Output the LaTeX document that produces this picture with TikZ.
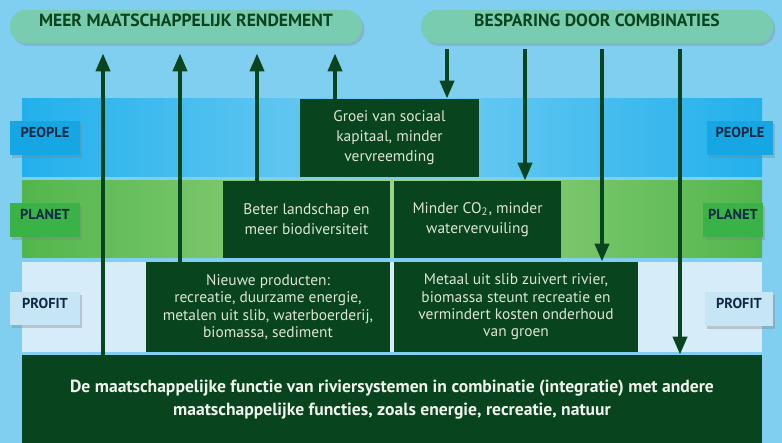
\documentclass[tikz,border=0pt]{standalone}
\usepackage{fontspec}
\setmainfont{PT Sans}
\usetikzlibrary{arrows.meta,fit,shadows}

\definecolor{skyback}{RGB}{128,206,240}
\definecolor{mintpill}{RGB}{122,204,176}
\definecolor{darkleaf}{RGB}{8,68,30}
\definecolor{boxtext}{RGB}{222,228,214}
\definecolor{basetext}{RGB}{240,244,236}
\definecolor{peopleblue}{RGB}{34,176,236}
\definecolor{peoplelight}{RGB}{118,206,242}
\definecolor{planetgreen}{RGB}{82,182,76}
\definecolor{planetlight}{RGB}{156,212,134}
\definecolor{profitlight}{RGB}{214,237,249}
\definecolor{labelnavy}{RGB}{16,40,66}
\definecolor{peoplelabel}{RGB}{22,166,228}
\definecolor{planetlabel}{RGB}{58,178,72}
\definecolor{profitlabel}{RGB}{198,230,246}

\tikzset{
  pill/.style={fill=mintpill, rounded corners=8pt, inner sep=0pt, text=darkleaf,
    font=\bfseries\fontsize{8.8}{10}\selectfont,
    drop shadow={shadow xshift=1.2pt, shadow yshift=-1.5pt, opacity=0.3}},
  band/.style={inner sep=0pt},
  cell/.style={fill=darkleaf, inner sep=0pt},
  celltext/.style={inner sep=0pt, align=center, text=boxtext,
    font=\fontsize{7.7}{10}\selectfont},
  tighttext/.style={celltext, font=\fontsize{7.7}{8.7}\selectfont},
  basetxt/.style={celltext, text=basetext, font=\bfseries\fontsize{8.8}{11.5}\selectfont},
  sidelabel/.style={inner sep=0pt, text=labelnavy, font=\bfseries\fontsize{7.2}{8}\selectfont,
    drop shadow={shadow xshift=1.2pt, shadow yshift=-1.5pt, opacity=0.35}},
  flow/.style={line width=2pt, draw=darkleaf},
  riseflow/.style={flow, -{Triangle[width=7pt,length=9pt]}, shorten >=5pt},
  dropflow/.style={flow, -{Triangle[width=7pt,length=9pt]}, shorten <=3pt},
}

\begin{document}
\begin{tikzpicture}[x=0.5pt,y=-0.5pt]
%%%%% START %%%%%

\useasboundingbox (0,0) rectangle (782,443);
\fill[skyback] (0,0) rectangle (782,443);

% kolommen van de pijlen
\coordinate (c1) at (103,0);
\coordinate (c2) at (180,0);
\coordinate (c3) at (257,0);
\coordinate (c4) at (335,0);
\coordinate (c5) at (447,0);
\coordinate (c6) at (525,0);
\coordinate (c7) at (602,0);
\coordinate (c8) at (680,0);

% banden
\node[band, left color=peopleblue, right color=peopleblue, middle color=peoplelight, fit={(22,99) (762,177)}] (people) {};
\node[band, left color=planetgreen, right color=planetgreen, middle color=planetlight, fit={(22,181) (762,258)}] (planet) {};
\node[band, fill=profitlight, fit={(22,262) (762,352)}] (profit) {};

% kopjes
\node[pill, fit={(10,10) (362,43)}] (gain) {MEER MAATSCHAPPELIJK RENDEMENT};
\node[pill, fit={(421,10) (773,43)}] (save) {BESPARING DOOR COMBINATIES};

% vakken
\node[cell, fit={(300,99) (479,177)}] (social) {};
\node[cell, fit={(223,181) (390,258)}] (landscape) {};
\node[cell, fit={(394,181) (561,258)}] (carbon) {};
\node[cell, fit={(146,262) (390,352)}] (products) {};
\node[cell, fit={(394,262) (638,352)}] (metal) {};
\node[cell, fit={(22,355) (762,445)}] (base) {};

\node[celltext] (socialtxt) at (social) {Groei van sociaal\\kapitaal, minder\\vervreemding};
\node[celltext] (landscapetxt) at (landscape) {Beter landschap en\\meer biodiversiteit};
\node[celltext] (carbontxt) at (carbon) {Minder CO\textsubscript{2}, minder\\watervervuiling};
\node[tighttext] (productstxt) at (products) {Nieuwe producten:\\recreatie, duurzame energie,\\metalen uit slib, waterboerderij,\\biomassa, sediment};
\node[tighttext] (metaltxt) at (metal) {Metaal uit slib zuivert rivier,\\biomassa steunt recreatie en\\vermindert kosten onderhoud\\van groen};
\node[basetxt] (basetext) at (base) {De maatschappelijke functie van riviersystemen in combinatie (integratie) met andere\\maatschappelijke functies, zoals energie, recreatie, natuur};

% labels
\node[sidelabel, fill=peoplelabel, fit={(10,121) (80,155)}] (peopleL) {PEOPLE};
\node[sidelabel, fill=peoplelabel, fit={(707,121) (773,155)}] (peopleR) {PEOPLE};
\node[sidelabel, fill=planetlabel, fit={(10,203) (80,237)}] (planetL) {PLANET};
\node[sidelabel, fill=planetlabel, fit={(703,203) (763,237)}] (planetR) {PLANET};
\node[sidelabel, fill=profitlabel, fit={(10,292) (80,325)}] (profitL) {PROFIT};
\node[sidelabel, fill=profitlabel, fit={(705,292) (773,326)}] (profitR) {PROFIT};

% pijlen omhoog
\draw[riseflow] (base.north -| c1) -- (gain.south -| c1);
\draw[riseflow] (products.north -| c2) -- (gain.south -| c2);
\draw[riseflow] (landscape.north -| c3) -- (gain.south -| c3);
\draw[riseflow] (social.north -| c4) -- (gain.south -| c4);

% pijlen omlaag
\draw[dropflow] (save.south -| c5) -- (social.north -| c5);
\draw[dropflow] (save.south -| c6) -- (carbon.north -| c6);
\draw[dropflow] (save.south -| c7) -- (metal.north -| c7);
\draw[dropflow] (save.south -| c8) -- (base.north -| c8);

%%%%% END %%%%%
\end{tikzpicture}
\end{document}
